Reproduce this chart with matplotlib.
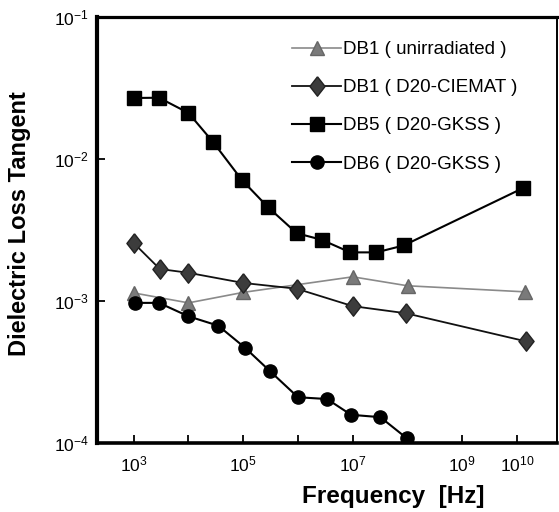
import matplotlib
matplotlib.use("Agg")
import matplotlib.pyplot as plt
from matplotlib.ticker import FixedLocator, NullLocator, FixedFormatter

plt.rcParams['font.family'] = ['Liberation Sans', 'DejaVu Sans']
plt.rcParams['mathtext.fontset'] = 'custom'
plt.rcParams['mathtext.rm'] = 'Liberation Sans'
plt.rcParams['mathtext.it'] = 'Liberation Sans'
plt.rcParams['mathtext.bf'] = 'Liberation Sans:bold'

# ---- data ----
db1u_f = [1e3, 1e4, 1e5, 1e7, 1e8, 1.4e10]
db1u_tan = [0.00114, 0.00097, 0.00115, 0.00148, 0.00128, 0.00116]

db1c_f = [1e3, 3.0e3, 1e4, 1e5, 9.5e5, 1e7, 9.3e7, 1.45e10]
db1c_tan = [0.00256, 0.00168, 0.00158, 0.00134, 0.00122, 0.00092, 0.00082, 0.00052]

db5_f = [1e3, 2.9e3, 1e4, 2.8e4, 9.5e4, 2.8e5, 9.5e5, 2.7e6, 9e6, 2.7e7, 8.5e7, 1.3e10]
db5_tan = [0.0269, 0.0270, 0.0211, 0.0132, 0.0071, 0.0046, 0.0030, 0.0027, 0.0022, 0.0022, 0.00246, 0.00625]

db6_f = [1.05e3, 2.9e3, 1e4, 3.5e4, 1.07e5, 3.1e5, 1e6, 3.4e6, 9.3e6, 3.2e7, 9.7e7]
db6_tan = [0.00097, 0.00097, 0.00078, 0.00067, 0.00047, 0.00032, 0.00021, 0.000204, 0.000158, 0.000152, 0.000108]

labels = ["DB1 ( unirradiated )", "DB1 ( D20-CIEMAT )", "DB5 ( D20-GKSS )", "DB6 ( D20-GKSS )"]

xticks = [1e3, 1e4, 1e5, 1e6, 1e7, 1e8, 1e9, 1e10]
xticklabels = [r"$10^{3}$", "", r"$10^{5}$", "", r"$10^{7}$", "", r"$10^{9}$", r"$10^{10}$"]
yticks = [1e-4, 1e-3, 1e-2, 1e-1]
yticklabels = [r"$10^{-4}$", r"$10^{-3}$", r"$10^{-2}$", r"$10^{-1}$"]

diamond = [(0, 1), (0.78, 0), (0, -1), (-0.78, 0), (0, 1)]

fig = plt.figure(figsize=(5.59, 5.12), dpi=100)
ax = fig.add_axes([97/559, 1-443/512, (557-97)/559, (443-17)/512])

ax.plot(db1u_f, db1u_tan, '-', color='#8a8a8a', lw=1.2, marker='^', ms=10.5,
        mfc='#7a7a7a', mec='#666666', label=labels[0], zorder=3)
ax.plot(db1c_f, db1c_tan, '-', color='#111111', lw=1.3, marker=diamond, ms=14,
        mfc='#3c3c3c', mec='#222222', label=labels[1], zorder=3)
ax.plot(db5_f, db5_tan, '-', color='black', lw=1.5, marker='s', ms=9.5,
        mfc='black', mec='black', label=labels[2], zorder=3)
ax.plot(db6_f, db6_tan, '-', color='black', lw=1.5, marker='o', ms=9.5,
        mfc='black', mec='black', label=labels[3], zorder=3)

ax.set_xscale('log')
ax.set_yscale('log')
ax.set_xlim(10**2.33, 10**10.73)
ax.set_ylim(1e-4, 1e-1)

ax.xaxis.set_major_locator(FixedLocator(xticks))
ax.xaxis.set_major_formatter(FixedFormatter(xticklabels))
ax.xaxis.set_minor_locator(NullLocator())
ax.yaxis.set_major_locator(FixedLocator(yticks))
ax.yaxis.set_major_formatter(FixedFormatter(yticklabels))
ax.yaxis.set_minor_locator(NullLocator())

ax.tick_params(axis='both', which='major', direction='in', length=6, width=1.3,
               labelsize=12.5, pad=8)
ax.tick_params(axis='y', pad=6)

for side, w in [('left', 3.0), ('bottom', 2.6), ('top', 2.3), ('right', 1.4)]:
    ax.spines[side].set_linewidth(w)

fig.text(20/559, 1-224/512, "Dielectric Loss Tangent", fontsize=17, fontweight='bold',
         rotation=90, ha='center', va='center')
fig.text(393/559, 1-497/512, "Frequency  [Hz]", fontsize=17.5, fontweight='bold',
         ha='center', va='center')

leg = ax.legend(loc='upper left', bbox_to_anchor=(0.40, 0.97), frameon=False,
                fontsize=13.5, handlelength=2.6, handletextpad=0.1,
                labelspacing=1.12, borderaxespad=0.2)

fig.savefig("out.png", dpi=100)
